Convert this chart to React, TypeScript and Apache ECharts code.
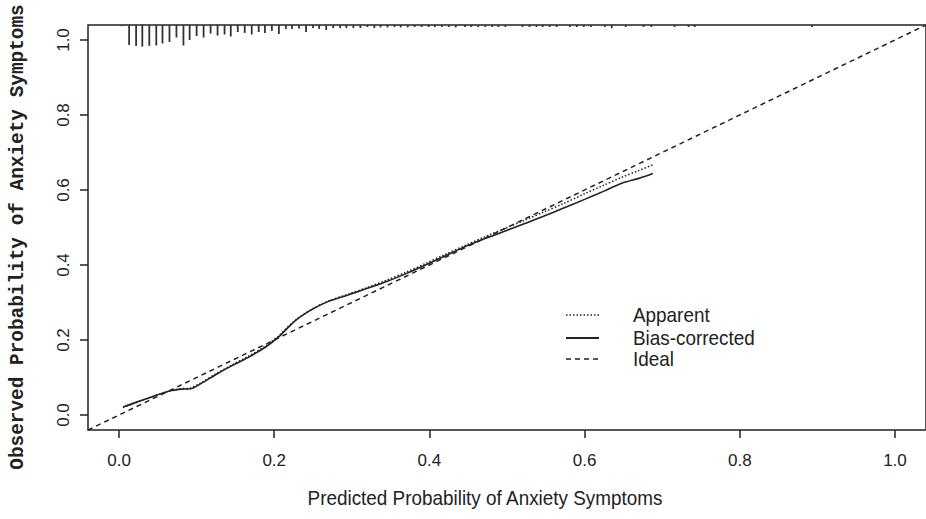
import React, { useEffect, useRef } from "react";
import * as echarts from "echarts";

const xTicks = [0, 0.2, 0.4, 0.6, 0.8, 1.0];
const yTicks = [0, 0.2, 0.4, 0.6, 0.8, 1.0];
const axisMin = -0.04;
const axisMax = 1.04;

const predX = [0.005, 0.018, 0.039, 0.065, 0.08, 0.092, 0.105, 0.125, 0.145, 0.166, 0.188, 0.205, 0.228, 0.25, 0.27, 0.295, 0.32, 0.345, 0.37, 0.395, 0.42, 0.446, 0.471, 0.497, 0.522, 0.547, 0.573, 0.6, 0.625, 0.648, 0.67, 0.688];
const biasY = [0.021, 0.031, 0.046, 0.064, 0.069, 0.07, 0.083, 0.108, 0.131, 0.153, 0.18, 0.207, 0.253, 0.283, 0.303, 0.32, 0.338, 0.356, 0.377, 0.4, 0.424, 0.449, 0.47, 0.49, 0.51, 0.53, 0.552, 0.575, 0.597, 0.618, 0.631, 0.644];
const apparentY = [0.02, 0.03, 0.046, 0.064, 0.07, 0.072, 0.085, 0.11, 0.133, 0.156, 0.183, 0.21, 0.254, 0.284, 0.304, 0.322, 0.34, 0.36, 0.381, 0.404, 0.428, 0.452, 0.475, 0.497, 0.519, 0.541, 0.564, 0.59, 0.613, 0.634, 0.652, 0.667];
const idealX = [-0.04, 1.04];

const rugX = [0.004, 0.013, 0.022, 0.03, 0.039, 0.048, 0.056, 0.065, 0.074, 0.083, 0.091, 0.1, 0.109, 0.118, 0.127, 0.136, 0.144, 0.153, 0.162, 0.171, 0.18, 0.188, 0.197, 0.206, 0.215, 0.223, 0.232, 0.241, 0.25, 0.258, 0.267, 0.276, 0.285, 0.293, 0.302, 0.311, 0.32, 0.329, 0.337, 0.346, 0.355, 0.363, 0.372, 0.381, 0.39, 0.399, 0.407, 0.416, 0.425, 0.434, 0.446, 0.454, 0.463, 0.472, 0.481, 0.489, 0.498, 0.52, 0.529, 0.538, 0.546, 0.555, 0.564, 0.581, 0.59, 0.599, 0.608, 0.626, 0.635, 0.653, 0.676, 0.686, 0.716, 0.734, 0.742, 0.893];
const rugFreq = [0.05, 0.91, 0.95, 0.98, 0.95, 0.93, 0.84, 0.77, 0.57, 0.93, 0.68, 0.5, 0.57, 0.39, 0.48, 0.43, 0.52, 0.32, 0.36, 0.43, 0.32, 0.36, 0.27, 0.41, 0.18, 0.18, 0.16, 0.32, 0.14, 0.18, 0.23, 0.14, 0.14, 0.14, 0.14, 0.14, 0.09, 0.14, 0.11, 0.11, 0.09, 0.11, 0.11, 0.09, 0.09, 0.09, 0.09, 0.09, 0.09, 0.11, 0.09, 0.09, 0.09, 0.09, 0.09, 0.09, 0.09, 0.09, 0.09, 0.09, 0.09, 0.09, 0.09, 0.09, 0.09, 0.09, 0.09, 0.09, 0.14, 0.09, 0.09, 0.09, 0.09, 0.09, 0.09, 0.09];

const legendNames = ["Apparent", "Bias-corrected", "Ideal"];
const xTitle = "Predicted Probability of Anxiety Symptoms";
const yTitle = "Observed Probability of Anxiety Symptoms";

const INK = "#222";
const RUG_PX = 22;
const NARROW = "'Liberation Sans Narrow', 'Liberation Sans', Arial, sans-serif";

export default function App() {
  const ref = useRef<HTMLDivElement>(null);
  useEffect(() => {
    if (!ref.current) return;
    const chart = echarts.init(ref.current, null, { renderer: "svg" });
    const dashIdeal = [5, 4];
    const dotApp = [1.5, 2];
    const legendStyles = [
      { type: dotApp, width: 1.5 },
      { type: "solid", width: 2 },
      { type: dashIdeal, width: 1.5 },
    ];
    const legendY = [315, 338, 359];
    const graphic: any[] = [
      {
        type: "text",
        x: 18,
        y: 237,
        rotation: Math.PI / 2,
        style: {
          text: yTitle,
          fill: INK,
          font: "bold 19.4px 'Liberation Mono', 'Courier New', monospace",
          textAlign: "center",
          textVerticalAlign: "middle",
        },
      },
      {
        type: "text",
        x: 485,
        y: 498,
        scaleX: 0.9,
        style: {
          text: xTitle,
          fill: INK,
          font: "21px " + NARROW,
          textAlign: "center",
          textVerticalAlign: "middle",
        },
      },
    ];
    legendNames.forEach((name, i) => {
      const ls: any = legendStyles[i];
      graphic.push({
        type: "line",
        shape: { x1: 566, y1: legendY[i], x2: 599, y2: legendY[i] },
        style: {
          stroke: INK,
          lineWidth: ls.width,
          lineDash: ls.type === "solid" ? null : ls.type,
        },
      });
      graphic.push({
        type: "text",
        x: 633,
        y: legendY[i],
        scaleX: 0.9,
        style: {
          text: name,
          fill: INK,
          font: "21px " + NARROW,
          textAlign: "left",
          textVerticalAlign: "middle",
        },
      });
    });

    chart.setOption({
      animation: false,
      backgroundColor: "#fff",
      grid: {
        left: 88,
        top: 25,
        right: -12,
        bottom: 89,
        show: true,
        borderColor: INK,
        borderWidth: 1.5,
      },
      xAxis: {
        type: "value",
        min: axisMin,
        max: axisMax,
        position: "bottom",
        axisLine: { show: false, onZero: false },
        splitLine: { show: false },
        axisTick: {
          show: true,
          length: 8,
          customValues: xTicks,
          lineStyle: { color: INK, width: 1.5 },
        },
        axisLabel: {
          customValues: xTicks,
          formatter: (v: number) => v.toFixed(1),
          margin: 22,
          fontSize: 17,
          color: INK,
          fontFamily: "'Liberation Sans', Arial, sans-serif",
        },
      },
      yAxis: {
        type: "value",
        min: axisMin,
        max: axisMax,
        position: "left",
        axisLine: { show: false, onZero: false },
        splitLine: { show: false },
        axisTick: {
          show: true,
          length: 8,
          customValues: yTicks,
          lineStyle: { color: INK, width: 1.5 },
        },
        axisLabel: {
          customValues: yTicks,
          formatter: (v: number) => v.toFixed(1),
          rotate: 90,
          margin: 16,
          fontSize: 17,
          color: INK,
          fontFamily: "'Liberation Sans', Arial, sans-serif",
        },
      },
      graphic,
      series: [
        {
          name: "Ideal",
          type: "line",
          data: idealX.map((v) => [v, v]),
          symbol: "none",
          silent: true,
          lineStyle: { color: INK, width: 1.5, type: dashIdeal },
        },
        {
          name: "Apparent",
          type: "line",
          data: predX.map((x, i) => [x, apparentY[i]]),
          symbol: "none",
          smooth: 0.3,
          silent: true,
          lineStyle: { color: INK, width: 1.5, type: dotApp },
        },
        {
          name: "Bias-corrected",
          type: "line",
          data: predX.map((x, i) => [x, biasY[i]]),
          symbol: "none",
          smooth: 0.3,
          silent: true,
          lineStyle: { color: INK, width: 1.6, type: "solid" },
        },
        {
          name: "rug",
          type: "custom",
          silent: true,
          data: rugX.map((x, i) => [x, rugFreq[i]]),
          renderItem: (params: any, api: any) => {
            const x = api.value(0);
            const f = api.value(1);
            const top = api.coord([x, axisMax]);
            return {
              type: "line",
              shape: { x1: top[0], y1: top[1], x2: top[0], y2: top[1] + f * RUG_PX },
              style: { stroke: "#333", lineWidth: 1.8 },
            };
          },
        },
      ],
    });
    return () => chart.dispose();
  }, []);
  return (
    <div
      ref={ref}
      style={{ position: "absolute", left: 0, top: 0, width: 926, height: 519 }}
    />
  );
}
